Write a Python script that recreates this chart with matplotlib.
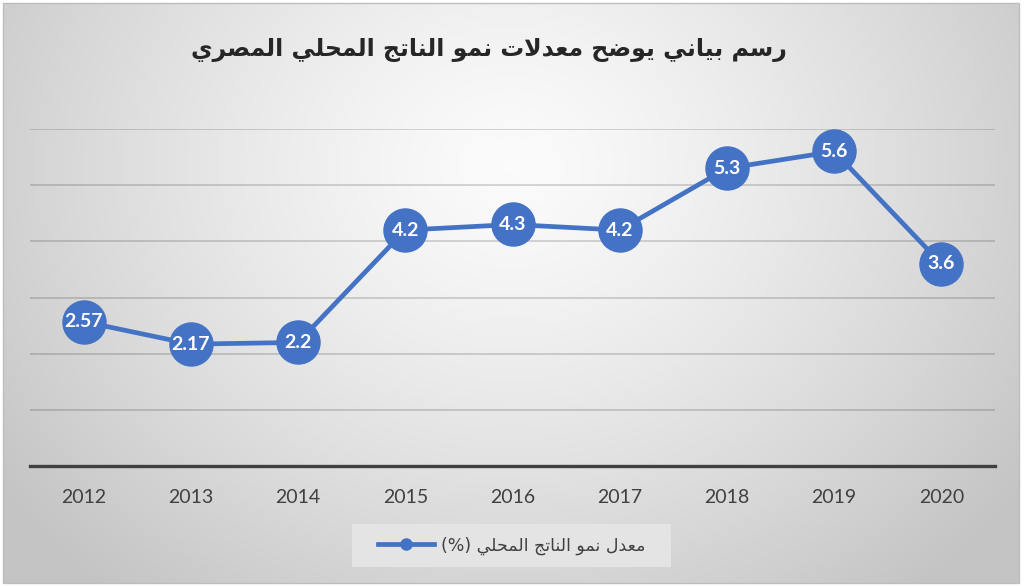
import numpy as np
import matplotlib
matplotlib.use("Agg")
import matplotlib.pyplot as plt
from matplotlib.lines import Line2D
from matplotlib.patches import Rectangle

# ---- data ----
years = ["2012", "2013", "2014", "2015", "2016", "2017", "2018", "2019", "2020"]
growth = [2.57, 2.17, 2.2, 4.2, 4.3, 4.2, 5.3, 5.6, 3.6]
value_labels = ["2.57", "2.17", "2.2", "4.2", "4.3", "4.2", "5.3", "5.6", "3.6"]
title_text = "رسم بياني يوضح معدلات نمو الناتج المحلي المصري"
legend_text = "معدل نمو الناتج المحلي (%)"

# ---- minimal Arabic shaping (matplotlib has no complex text layout) ----
FORMS = {
    'ا': ('\uFE8D', '\uFE8E', None, None),
    'ب': ('\uFE8F', '\uFE90', '\uFE91', '\uFE92'),
    'ت': ('\uFE95', '\uFE96', '\uFE97', '\uFE98'),
    'ج': ('\uFE9D', '\uFE9E', '\uFE9F', '\uFEA0'),
    'ح': ('\uFEA1', '\uFEA2', '\uFEA3', '\uFEA4'),
    'د': ('\uFEA9', '\uFEAA', None, None),
    'ر': ('\uFEAD', '\uFEAE', None, None),
    'س': ('\uFEB1', '\uFEB2', '\uFEB3', '\uFEB4'),
    'ص': ('\uFEB9', '\uFEBA', '\uFEBB', '\uFEBC'),
    'ض': ('\uFEBD', '\uFEBE', '\uFEBF', '\uFEC0'),
    'ع': ('\uFEC9', '\uFECA', '\uFECB', '\uFECC'),
    'ل': ('\uFEDD', '\uFEDE', '\uFEDF', '\uFEE0'),
    'م': ('\uFEE1', '\uFEE2', '\uFEE3', '\uFEE4'),
    'ن': ('\uFEE5', '\uFEE6', '\uFEE7', '\uFEE8'),
    'و': ('\uFEED', '\uFEEE', None, None),
    'ي': ('\uFEF1', '\uFEF2', '\uFEF3', '\uFEF4'),
}


def shape_arabic(s):
    out = []
    n = len(s)
    i = 0
    while i < n:
        c = s[i]
        if c not in FORMS:
            out.append(c)
            i += 1
            continue
        prev = s[i - 1] if i > 0 else ''
        joins_prev = prev in FORMS and FORMS[prev][2] is not None
        if c == 'ل' and i + 1 < n and s[i + 1] == 'ا':
            out.append('\uFEFC' if joins_prev else '\uFEFB')
            i += 2
            continue
        nxt = s[i + 1] if i + 1 < n else ''
        joins_next = FORMS[c][2] is not None and nxt in FORMS
        iso, fin, ini, med = FORMS[c]
        if joins_prev and joins_next:
            out.append(med)
        elif joins_prev:
            out.append(fin)
        elif joins_next:
            out.append(ini)
        else:
            out.append(iso)
        i += 1
    vis = ''.join(reversed(out))
    return vis.translate(str.maketrans('()', ')('))


W, H = 1024, 587
fig = plt.figure(figsize=(W / 100, H / 100), dpi=100)
fig.patch.set_facecolor('white')

# background with radial gradient
bg = fig.add_axes([0, 0, 1, 1])
bg.set_xlim(0, W)
bg.set_ylim(H, 0)
bg.axis('off')
gx, gy = np.meshgrid(np.linspace(0, 1, 400), np.linspace(0, 1, 230))
r = np.sqrt(((gx - 0.5) / 0.62) ** 2 + ((gy - 0.28) / 0.95) ** 2)
r = np.clip(r, 0, 1)
c0, c1 = 0.985, 0.77
img = c0 + (c1 - c0) * r ** 1.3
bg.imshow(np.dstack([img, img, img]), extent=(3, 1019, 583, 3), aspect='auto',
          interpolation='bilinear', zorder=0)
bg.add_patch(Rectangle((3, 3), 1016, 580, fill=False, edgecolor='#bdbdbd', lw=1.0, zorder=1))

# title
bg.text(489, 50, shape_arabic(title_text), ha='center', va='center',
        fontsize=17, fontweight='bold', color='#262626', family=['DejaVu Sans'], zorder=2)

# legend frame
bg.add_patch(Rectangle((352, 524), 319, 43, facecolor='#e4e4e4', edgecolor='none', zorder=1))

# main axes
ax = fig.add_axes([30 / W, 1 - 466 / H, 965 / W, 337 / H])
ax.set_facecolor('none')
x = np.arange(len(years))
ax.set_xlim(-0.5, len(years) - 0.5)
ax.set_ylim(0, 6)
ax.set_yticks(np.arange(0, 7, 1))
ax.yaxis.grid(True, color='black', alpha=0.18, lw=1.2)
ax.set_axisbelow(True)
for sp in ['left', 'right', 'top']:
    ax.spines[sp].set_visible(False)
ax.spines['bottom'].set_color('#404040')
ax.spines['bottom'].set_linewidth(2.4)
ax.spines['bottom'].set_zorder(3)
ax.tick_params(axis='y', left=False, labelleft=False)
ax.tick_params(axis='x', bottom=False, pad=13)
ax.set_xticks(x)
ax.set_xticklabels(years, fontsize=14, color='#404040', family='Lato')

blue = '#4472C4'
ax.plot(x, growth, color=blue, lw=3.4, marker='o', markersize=31,
        markerfacecolor=blue, markeredgecolor=blue, zorder=4, clip_on=False)
for xi, yi, lab in zip(x, growth, value_labels):
    ax.text(xi, yi, lab, ha='center', va='center', color='white', fontsize=14,
            fontweight='bold', family='Lato', zorder=5)

# legend
handle = Line2D([], [], color=blue, lw=3.4, marker='o', markersize=8,
                markerfacecolor=blue, markeredgecolor=blue)
leg = fig.legend([handle], [shape_arabic(legend_text)], loc='center',
                 bbox_to_anchor=(511.5 / W, 1 - 545.5 / H), frameon=False,
                 handlelength=3.2, handletextpad=0.4,
                 prop={'family': 'DejaVu Sans', 'size': 12.5})
for t in leg.get_texts():
    t.set_color('#404040')

fig.savefig('out.png', dpi=100)
